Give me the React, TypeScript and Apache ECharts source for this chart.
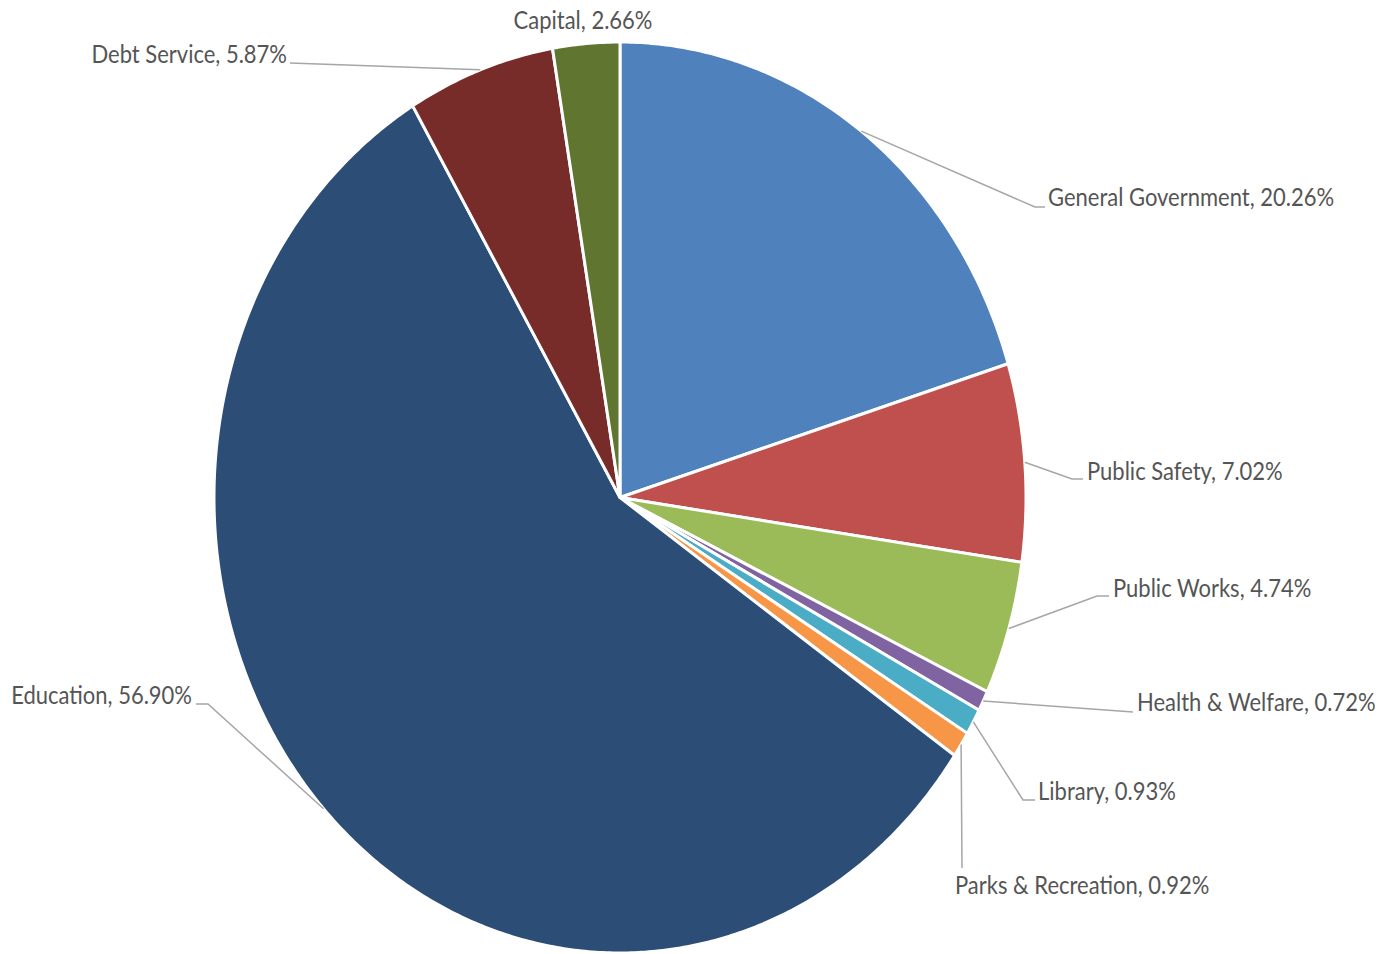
import React, { useEffect, useRef } from "react";
import * as echarts from "echarts";

const categories = [
  "General Government",
  "Public Safety",
  "Public Works",
  "Health & Welfare",
  "Library",
  "Parks & Recreation",
  "Education",
  "Debt Service",
  "Capital",
];
const shares = [20.26, 7.02, 4.74, 0.72, 0.93, 0.92, 56.9, 5.87, 2.66];
const colors = [
  "#4F81BD",
  "#C0504D",
  "#9BBB59",
  "#8064A2",
  "#4BACC6",
  "#F79646",
  "#2C4D75",
  "#772C2A",
  "#5F7530",
];

// label layout: elbow point, line end, text anchor, alignment
type LabelLayout = { elbow: number[] | null; end: number[] | null; text: number[]; align: string };
const labelLayouts: LabelLayout[] = [
  { elbow: [1035, 207], end: [1045, 207], text: [1048, 197], align: "left" },
  { elbow: [1072, 479], end: [1083, 479], text: [1087, 471], align: "left" },
  { elbow: [1097, 596], end: [1109, 596], text: [1113, 588], align: "left" },
  { elbow: null, end: [1133, 712], text: [1137, 702], align: "left" },
  { elbow: [1023, 800], end: [1035, 800], text: [1038, 791], align: "left" },
  { elbow: null, end: [962, 868], text: [955, 885], align: "left" },
  { elbow: [208, 704], end: [196, 704], text: [192, 695], align: "right" },
  { elbow: null, end: [290, 63], text: [287, 54], align: "right" },
  { elbow: null, end: null, text: [583, 20], align: "center" },
];

const CX = 620;
const CY = 497.5;
const RX = 406;
const RY = 455.5;
const TEXT_SCALE_Y = 1.1;

function ellipsePoint(frac: number): number[] {
  const a = frac * Math.PI * 2;
  return [CX + RX * Math.sin(a), CY - RY * Math.cos(a)];
}

export default function App() {
  const ref = useRef<HTMLDivElement>(null);

  useEffect(() => {
    if (!ref.current) return;
    const chart = echarts.init(ref.current, null, { renderer: "svg" });
    const total = shares.reduce((s, v) => s + v, 0);
    const starts: number[] = [];
    let acc = 0;
    shares.forEach((v) => {
      starts.push(acc);
      acc += v;
    });

    const renderItem = (params: any, api: any) => {
      const i = params.dataIndex;
      const value = api.value(0);
      const f0 = starts[i] / total;
      const f1 = (starts[i] + value) / total;
      const steps = Math.max(4, Math.ceil((f1 - f0) * 720));
      const pts: number[][] = [[CX, CY]];
      for (let k = 0; k <= steps; k++) {
        pts.push(ellipsePoint(f0 + ((f1 - f0) * k) / steps));
      }
      const children: any[] = [
        {
          type: "polygon",
          shape: { points: pts },
          style: { fill: colors[i], stroke: "#ffffff", lineWidth: 3, lineJoin: "round" },
        },
      ];
      const lay = labelLayouts[i];
      const mid = ellipsePoint((f0 + f1) / 2);
      if (lay.end) {
        const linePts = [mid];
        if (lay.elbow) linePts.push(lay.elbow);
        linePts.push(lay.end);
        children.push({
          type: "polyline",
          shape: { points: linePts },
          style: { stroke: "#A6A6A6", lineWidth: 1.5, fill: null },
        });
      }
      children.push({
        type: "text",
        x: lay.text[0],
        y: lay.text[1],
        scaleY: TEXT_SCALE_Y,
        style: {
          text: `${categories[i]}, ${value.toFixed(2)}%`,
          fill: "#555555",
          fontSize: 22,
          fontFamily: "Lato",
          align: lay.align,
          verticalAlign: "middle",
          textAlign: lay.align,
          textVerticalAlign: "middle",
        },
      });
      return { type: "group", children };
    };

    chart.setOption({
      animation: false,
      backgroundColor: "#ffffff",
      series: [
        {
          type: "custom",
          coordinateSystem: "none",
          renderItem,
          data: shares.map((v, i) => [v, i]),
        },
      ],
    });
    return () => chart.dispose();
  }, []);

  return (
    <div
      ref={ref}
      style={{ position: "fixed", left: 0, top: 0, width: 1382, height: 954, background: "#fff" }}
    />
  );
}
